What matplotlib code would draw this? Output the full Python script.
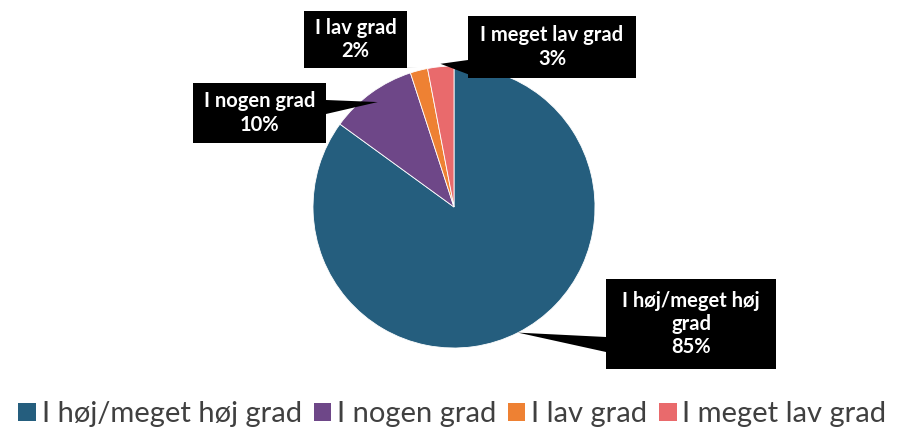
import matplotlib.pyplot as plt
from matplotlib.patches import Rectangle, Polygon, Patch
import numpy as np

plt.rcParams['font.family'] = ['Lato', 'DejaVu Sans']

categories = ['I høj/meget høj grad', 'I nogen grad', 'I lav grad', 'I meget lav grad']
values = [85, 10, 2, 3]
label_text = ['I høj/meget høj\ngrad', 'I nogen grad', 'I lav grad', 'I meget lav grad']
colors = ['#255E7E', '#6E4788', '#EE8133', '#E96A6C']

W, H = 905, 438
fig = plt.figure(figsize=(W / 100, H / 100), dpi=100)
ax = fig.add_axes([0, 0, 1, 1])

cx, cy, r = 454, H - 207, 141
wedges, _ = ax.pie(values, colors=colors, startangle=90, counterclock=False,
                   center=(cx, cy), radius=r, frame=True,
                   wedgeprops=dict(linewidth=0.6, edgecolor='white'))
ax.set_xlim(0, W)
ax.set_ylim(0, H)
ax.set_aspect('equal')
ax.axis('off')

# callout boxes in pixel layout (left, top, right, bottom), pointer base points
boxes = [
    (606, 279, 776, 369),
    (193, 83, 326, 143),
    (304, 11, 407, 68),
    (468, 16, 636, 78),
]
bases = [
    [(606, 337), (606, 352)],
    [(326, 100), (326, 114)],
    [(380, 68), (398, 68)],
    [(468, 60), (478, 78)],
]
tip_r = [1.0, 0.92, 1.02, 1.02]

for i, w in enumerate(wedges):
    ang = np.deg2rad((w.theta1 + w.theta2) / 2)
    tx = cx + r * tip_r[i] * np.cos(ang)
    ty = cy + r * tip_r[i] * np.sin(ang)
    x0, y0, x1, y1 = boxes[i]
    ax.add_patch(Rectangle((x0, H - y1), x1 - x0, y1 - y0, fc='black', ec='none', zorder=5))
    (bx0, by0), (bx1, by1) = bases[i]
    ax.add_patch(Polygon([(bx0, H - by0), (bx1, H - by1), (tx, ty)], closed=True,
                         fc='black', ec='none', zorder=5))
    ax.text((x0 + x1) / 2, H - (y0 + y1) / 2, f'{label_text[i]}\n{values[i]}%',
            ha='center', va='center', color='white', fontsize=14.5, fontweight='bold',
            linespacing=1.2, zorder=6)

handles = [Patch(facecolor=c, edgecolor='none') for c in colors]
fig.legend(handles, categories, loc='lower center', bbox_to_anchor=(0.5, -0.035),
           ncol=4, frameon=False, fontsize=21, handlelength=0.6, handleheight=0.6,
           handletextpad=0.2, columnspacing=0.4, labelcolor='#404040')

fig.savefig('out.png', dpi=100)
